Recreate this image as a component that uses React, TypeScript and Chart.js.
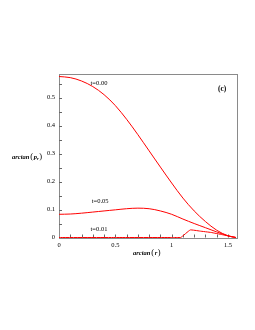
import React, { useEffect, useRef } from "react";
import { Chart, registerables } from "chart.js";

Chart.register(...registerables);

// shared x grid for t=0.00 and t=0.05
const xGrid = [0, 0.1, 0.2, 0.3, 0.4, 0.5, 0.6, 0.7, 0.8, 0.9, 1.0, 1.1, 1.2, 1.3, 1.4, 1.5, 1.57];
const seriesT000 = [0.576, 0.572, 0.56, 0.54, 0.511, 0.472, 0.423, 0.368, 0.31, 0.252, 0.195, 0.141, 0.095, 0.057, 0.026, 0.006, 0];
const seriesT005 = [0.083, 0.084, 0.087, 0.091, 0.095, 0.099, 0.103, 0.105, 0.103, 0.095, 0.083, 0.066, 0.05, 0.035, 0.02, 0.006, 0];
const xT001 = [0, 0.5, 1.0, 1.08, 1.165, 1.25, 1.35, 1.45, 1.57];
const seriesT001 = [0, 0, 0, 0, 0.027, 0.023, 0.018, 0.01, 0];

const seriesLabels = ["t=0.00", "t=0.05", "t=0.01"];
const labelAnchors = [
  [0.28, 0.553],
  [0.29, 0.128],
  [0.28, 0.03],
];
const panelTag = "(c)";
const xTicks = [0, 0.5, 1, 1.5];
const yTicks = [0, 0.1, 0.2, 0.3, 0.4, 0.5];

const SERIF = "'Liberation Serif', 'DejaVu Serif', serif";

const toPts = (xs: number[], ys: number[]) => xs.map((x, i) => ({ x, y: ys[i] }));

const decorPlugin = {
  id: "decor",
  beforeDatasetsDraw(chart: any) {
    const { ctx, chartArea: a, scales } = chart;
    const xs = scales.x;
    const ys = scales.y;
    ctx.save();
    ctx.strokeStyle = "#8a8a8a";
    ctx.lineWidth = 1;
    ctx.strokeRect(Math.round(a.left) + 0.5, Math.round(a.top) + 0.5, Math.round(a.right - a.left), Math.round(a.bottom - a.top));
    ctx.strokeStyle = "#666";
    ctx.beginPath();
    for (let i = 1; i <= 15; i++) {
      const px = Math.round(xs.getPixelForValue(i / 10)) + 0.5;
      ctx.moveTo(px, a.bottom);
      ctx.lineTo(px, a.bottom - 3);
    }
    for (let i = 1; i <= 11; i++) {
      const py = Math.round(ys.getPixelForValue(i * 0.05)) + 0.5;
      ctx.moveTo(a.left, py);
      ctx.lineTo(a.left + 3, py);
    }
    ctx.stroke();
    ctx.restore();
  },
  afterDraw(chart: any) {
    const { ctx, chartArea: a, scales } = chart;
    const xs = scales.x;
    const ys = scales.y;
    ctx.save();
    ctx.fillStyle = "#000";
    ctx.font = `6.5px ${SERIF}`;
    ctx.textAlign = "left";
    ctx.textBaseline = "middle";
    seriesLabels.forEach((s, i) => {
      ctx.fillText(s, xs.getPixelForValue(labelAnchors[i][0]), ys.getPixelForValue(labelAnchors[i][1]));
    });
    ctx.font = `bold 7.5px ${SERIF}`;
    ctx.fillText(panelTag, a.right - 19, a.top + 15);
    // y title
    let x = 12;
    const yT = 157;
    ctx.font = `italic bold 6.5px ${SERIF}`;
    ctx.fillText("arctan", x, yT);
    x += ctx.measureText("arctan").width + 1;
    ctx.font = `8.5px ${SERIF}`;
    ctx.fillText("(", x, yT);
    x += ctx.measureText("(").width + 0.5;
    ctx.font = `italic bold 6.5px ${SERIF}`;
    ctx.fillText("p", x, yT);
    x += ctx.measureText("p").width;
    ctx.font = `italic bold 4.5px ${SERIF}`;
    ctx.fillText("r", x, yT + 1.5);
    x += ctx.measureText("r").width + 0.5;
    ctx.font = `8.5px ${SERIF}`;
    ctx.fillText(")", x, yT);
    // x title
    let xx = 133;
    const yX = 253;
    ctx.font = `italic bold 6.5px ${SERIF}`;
    ctx.fillText("arctan", xx, yX);
    xx += ctx.measureText("arctan").width + 1;
    ctx.font = `8.5px ${SERIF}`;
    ctx.fillText("(", xx, yX);
    xx += ctx.measureText("(").width + 0.5;
    ctx.font = `italic bold 6.5px ${SERIF}`;
    ctx.fillText("r", xx, yX);
    xx += ctx.measureText("r").width + 0.5;
    ctx.font = `8.5px ${SERIF}`;
    ctx.fillText(")", xx, yX);
    ctx.restore();
  },
};

export default function App() {
  const ref = useRef<HTMLCanvasElement | null>(null);
  useEffect(() => {
    document.body.style.margin = "0";
    const lineStyle = { borderColor: "rgb(255,0,0)", borderWidth: 1, pointRadius: 0, tension: 0.35, fill: false, clip: 3 };
    const chart = new Chart(ref.current as HTMLCanvasElement, {
      type: "line",
      data: {
        datasets: [
          { label: seriesLabels[0], data: toPts(xGrid, seriesT000), ...lineStyle },
          { label: seriesLabels[1], data: toPts(xGrid, seriesT005), ...lineStyle },
          { label: seriesLabels[2], data: toPts(xT001, seriesT001), ...lineStyle, tension: 0.1 },
        ],
      },
      options: {
        responsive: false,
        animation: false,
        layout: { padding: { left: 0, right: 18, top: 74, bottom: 0 } },
        plugins: { legend: { display: false }, tooltip: { enabled: false } },
        scales: {
          x: {
            type: "linear",
            min: 0,
            max: 1.58,
            afterFit: (s: any) => { s.height = 92.5; },
            afterBuildTicks: (s: any) => { s.ticks = xTicks.map((v) => ({ value: v })); },
            grid: { display: false, drawTicks: false },
            border: { display: false },
            ticks: { color: "#000", font: { family: SERIF, size: 6.5 }, padding: 4, maxRotation: 0, callback: (v: any) => String(v) },
          },
          y: {
            type: "linear",
            min: 0,
            max: 0.585,
            afterFit: (s: any) => { s.width = 59; },
            afterBuildTicks: (s: any) => { s.ticks = yTicks.map((v) => ({ value: v })); },
            grid: { display: false, drawTicks: false },
            border: { display: false },
            ticks: { color: "#000", font: { family: SERIF, size: 6.5 }, padding: 4, callback: (v: any) => String(v) },
          },
        },
      },
      plugins: [decorPlugin],
    });
    return () => chart.destroy();
  }, []);
  return <canvas ref={ref} width={255} height={330} style={{ display: "block" }} />;
}
